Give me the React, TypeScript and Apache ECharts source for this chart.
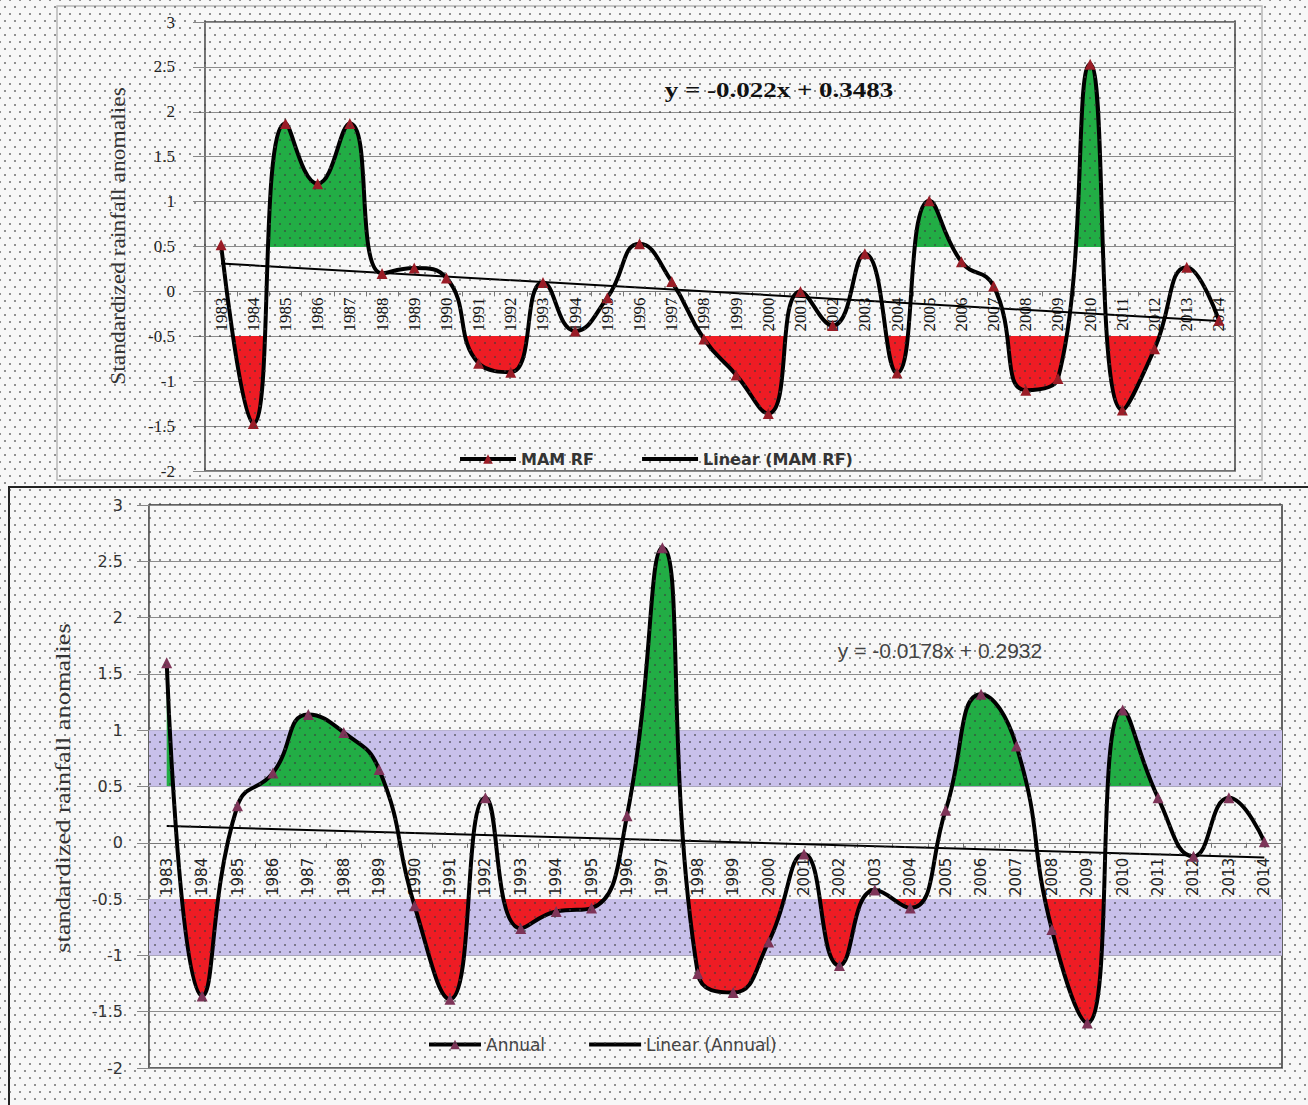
import React, { useEffect, useRef } from "react";
import * as echarts from "echarts";

// ---------- data ----------
const YEARS = [
  "1983", "1984", "1985", "1986", "1987", "1988", "1989", "1990",
  "1991", "1992", "1993", "1994", "1995", "1996", "1997", "1998",
  "1999", "2000", "2001", "2002", "2003", "2004", "2005", "2006",
  "2007", "2008", "2009", "2010", "2011", "2012", "2013", "2014",
];

// MAM (March-April-May) standardized rainfall anomalies
const MAM_RF = [
  0.52, -1.47, 1.87, 1.2, 1.87, 0.2, 0.26, 0.15,
  -0.8, -0.9, 0.1, -0.44, -0.07, 0.53, 0.11, -0.53,
  -0.93, -1.36, 0.0, -0.38, 0.42, -0.91, 1.01, 0.33,
  0.06, -1.1, -0.97, 2.53, -1.32, -0.64, 0.27, -0.32,
];

// Annual standardized rainfall anomalies
const ANNUAL = [
  1.6, -1.36, 0.33, 0.62, 1.14, 0.98, 0.65, -0.56,
  -1.39, 0.4, -0.76, -0.61, -0.58, 0.24, 2.62, -1.16,
  -1.33, -0.88, -0.1, -1.09, -0.42, -0.58, 0.29, 1.32,
  0.86, -0.77, -1.6, 1.18, 0.4, -0.12, 0.4, 0.01,
];

// trend line values at first and last year (as drawn)
const MAM_TREND_ENDS = [0.31, -0.33];
const ANNUAL_TREND_ENDS = [0.15, -0.13];

const MAM_EQUATION = "y = -0.022x + 0.3483";
const ANNUAL_EQUATION = "y = -0.0178x + 0.2932";

const Y_MIN = -2;
const Y_MAX = 3;
const Y_INTERVAL = 0.5;

const WET_THRESHOLD = 0.5;
const DRY_THRESHOLD = -0.5;
const BANDS = [
  [0.5, 1],
  [-1, -0.5],
];

const SERIES_NAMES = {
  mam: "MAM RF",
  mamTrend: "Linear (MAM RF)",
  annual: "Annual",
  annualTrend: "Linear (Annual)",
};

// ---------- layout / styles ----------
const GRIDS = [
  { left: 205, top: 22, width: 1030, height: 449 },
  { left: 149, top: 505, width: 1133, height: 563 },
];
const GREEN = "#22ad45";
const RED = "#ee1c24";
const PURPLE = "#c8c0ea";
const SMOOTH = 0.5;
const LINE_ICON = "path://M0,0 L40,0 L40,3 L0,3 Z";

function trendData(ends: number[]) {
  return YEARS.map((_, i) => (i === 0 ? ends[0] : i === YEARS.length - 1 ? ends[1] : null));
}

// distance (px) from the grid's bottom edge up to the value 0 line
function zeroOffset(g: { height: number }) {
  return -(g.height * (0 - Y_MIN)) / (Y_MAX - Y_MIN);
}

function buildOption() {
  const yAxisBase = (gridIndex: number, font: string, size: number, margin: number, color: string) => ({
    type: "value",
    gridIndex,
    min: Y_MIN,
    max: Y_MAX,
    interval: Y_INTERVAL,
    axisLine: { show: true, lineStyle: { color: "#777", width: 1 } },
    axisTick: { show: true, length: 12, lineStyle: { color: "#888" } },
    splitLine: { show: true, lineStyle: { color: "#8c8c8c", width: 1 } },
    axisLabel: { fontFamily: font, fontSize: size, color, margin },
  });

  const xAxisBase = (gridIndex: number, font: string, size: number, margin: number, color: string) => ({
    type: "category",
    gridIndex,
    data: YEARS,
    boundaryGap: true,
    position: "bottom",
    offset: zeroOffset(GRIDS[gridIndex]),
    axisLine: { show: true, onZero: false, lineStyle: { color: "#777", width: 1 } },
    axisTick: { show: true, length: 5, lineStyle: { color: "#777" } },
    axisLabel: { interval: 0, rotate: 90, fontFamily: font, fontSize: size, color, margin },
    splitLine: { show: false },
  });

  const fillSeries = (idx: number, data: number[]) => ({
    type: "line",
    name: "fill" + idx,
    xAxisIndex: idx,
    yAxisIndex: idx,
    data,
    smooth: SMOOTH,
    symbol: "none",
    showSymbol: false,
    silent: true,
    lineStyle: { width: 0, opacity: 0 },
    areaStyle: { opacity: 1 },
    z: 2,
  });

  const trendSeries = (idx: number, name: string, ends: number[], extra: any = {}) => ({
    type: "line",
    name,
    xAxisIndex: idx,
    yAxisIndex: idx,
    data: trendData(ends),
    connectNulls: true,
    symbol: "none",
    showSymbol: false,
    silent: true,
    itemStyle: { color: "#000" },
    lineStyle: { color: "#000", width: 2 },
    z: 3,
    ...extra,
  });

  const mainSeries = (idx: number, name: string, data: number[], markerColor: string) => ({
    type: "line",
    name,
    xAxisIndex: idx,
    yAxisIndex: idx,
    data,
    smooth: SMOOTH,
    symbol: "triangle",
    symbolSize: 11,
    showSymbol: true,
    itemStyle: { color: markerColor },
    lineStyle: { color: "#000", width: 4 },
    z: 4,
  });

  return {
    animation: false,
    backgroundColor: "transparent",
    textStyle: { fontFamily: "Liberation Serif" },
    grid: [
      { ...GRIDS[0], show: true, borderColor: "#444", borderWidth: 1.5, backgroundColor: "transparent" },
      { ...GRIDS[1], show: true, borderColor: "#333", borderWidth: 1.5, backgroundColor: "transparent" },
    ],
    xAxis: [
      xAxisBase(0, "Liberation Serif", 17, 6, "#111"),
      xAxisBase(1, "DejaVu Sans", 15, 15, "#222"),
    ],
    yAxis: [
      yAxisBase(0, "Liberation Serif", 17, 30, "#222"),
      yAxisBase(1, "DejaVu Sans", 16, 26, "#333"),
    ],
    visualMap: [
      {
        type: "piecewise",
        show: false,
        seriesIndex: [0, 3],
        dimension: 1,
        pieces: [
          { lt: DRY_THRESHOLD, color: RED },
          { gte: DRY_THRESHOLD, lte: WET_THRESHOLD, color: "rgba(0,0,0,0)" },
          { gt: WET_THRESHOLD, color: GREEN },
        ],
      },
    ],
    legend: [
      {
        data: [
          { name: SERIES_NAMES.mam, lineStyle: { width: 4, color: "#000" } },
          { name: SERIES_NAMES.mamTrend, icon: LINE_ICON, itemStyle: { color: "#000" } },
        ],
        left: 453,
        top: 446,
        itemWidth: 56,
        itemHeight: 12,
        itemGap: 48,
        textStyle: { fontFamily: "DejaVu Sans", fontWeight: "bold", fontSize: 16, color: "#333" },
      },
      {
        data: [
          { name: SERIES_NAMES.annual, lineStyle: { width: 4, color: "#000" } },
          { name: SERIES_NAMES.annualTrend, icon: LINE_ICON, itemStyle: { color: "#000" } },
        ],
        left: 422,
        top: 1031,
        itemWidth: 52,
        itemHeight: 12,
        itemGap: 44,
        textStyle: { fontFamily: "DejaVu Sans", fontSize: 17, color: "#444" },
      },
    ],
    series: [
      fillSeries(0, MAM_RF),
      trendSeries(0, SERIES_NAMES.mamTrend, MAM_TREND_ENDS),
      mainSeries(0, SERIES_NAMES.mam, MAM_RF, "#9a1c26"),
      fillSeries(1, ANNUAL),
      trendSeries(1, SERIES_NAMES.annualTrend, ANNUAL_TREND_ENDS, {
        markArea: {
          silent: true,
          label: { show: false },
          itemStyle: { color: PURPLE, opacity: 1 },
          data: BANDS.map((b) => [{ yAxis: b[0] }, { yAxis: b[1] }]),
        },
      }),
      mainSeries(1, SERIES_NAMES.annual, ANNUAL, "#7e3458"),
    ],
    graphic: [
      {
        type: "rect",
        silent: true,
        z: -1,
        shape: { x: 57, y: 6, width: 1205, height: 474 },
        style: { fill: "none", stroke: "#b8b8b8", lineWidth: 1.5 },
      },
      {
        type: "rect",
        silent: true,
        z: -1,
        shape: { x: 9, y: 487, width: 1310, height: 630 },
        style: { fill: "none", stroke: "#222", lineWidth: 2 },
      },
      {
        type: "text",
        silent: true,
        x: 118,
        y: 236,
        rotation: Math.PI / 2,
        scaleX: 1.12,
        style: {
          text: "Standardized rainfall anomalies",
          fontFamily: "Liberation Serif",
          fontSize: 21,
          fill: "#333",
          align: "center",
          verticalAlign: "middle",
        },
      },
      {
        type: "text",
        silent: true,
        x: 62,
        y: 788,
        rotation: Math.PI / 2,
        scaleX: 1.2,
        style: {
          text: "standardized rainfall anomalies",
          fontFamily: "Liberation Serif",
          fontSize: 22,
          fill: "#333",
          align: "center",
          verticalAlign: "middle",
        },
      },
      {
        type: "text",
        silent: true,
        x: 779,
        y: 90,
        scaleX: 1.35,
        style: {
          text: MAM_EQUATION,
          fontFamily: "Liberation Serif",
          fontWeight: "bold",
          fontSize: 20,
          fill: "#111",
          align: "center",
          verticalAlign: "middle",
        },
      },
      {
        type: "text",
        silent: true,
        x: 940,
        y: 650,
        style: {
          text: ANNUAL_EQUATION,
          fontFamily: "Liberation Sans",
          fontSize: 21,
          fill: "#444",
          align: "center",
          verticalAlign: "middle",
        },
      },
    ],
  };
}

export default function App() {
  const ref = useRef<HTMLDivElement>(null);

  useEffect(() => {
    if (!ref.current) return;
    const chart = echarts.init(ref.current, null, { renderer: "svg" });
    chart.setOption(buildOption() as any);
    return () => chart.dispose();
  }, []);

  const dots =
    "radial-gradient(circle, rgba(60,60,60,0.55) 0.9px, rgba(0,0,0,0) 1.5px), radial-gradient(circle, rgba(60,60,60,0.55) 0.9px, rgba(0,0,0,0) 1.5px)";

  return (
    <div
      style={{
        position: "absolute",
        left: 0,
        top: 0,
        width: 1308,
        height: 1105,
        overflow: "hidden",
        background: "#f7f7f7",
      }}
    >
      <div ref={ref} style={{ position: "absolute", left: 0, top: 0, width: 1308, height: 1105 }} />
      <div
        style={{
          position: "absolute",
          left: 0,
          top: 0,
          width: 1308,
          height: 1105,
          pointerEvents: "none",
          backgroundImage: dots,
          backgroundSize: "10px 14px",
          backgroundPosition: "0 0, 5px 7px",
        }}
      />
    </div>
  );
}
